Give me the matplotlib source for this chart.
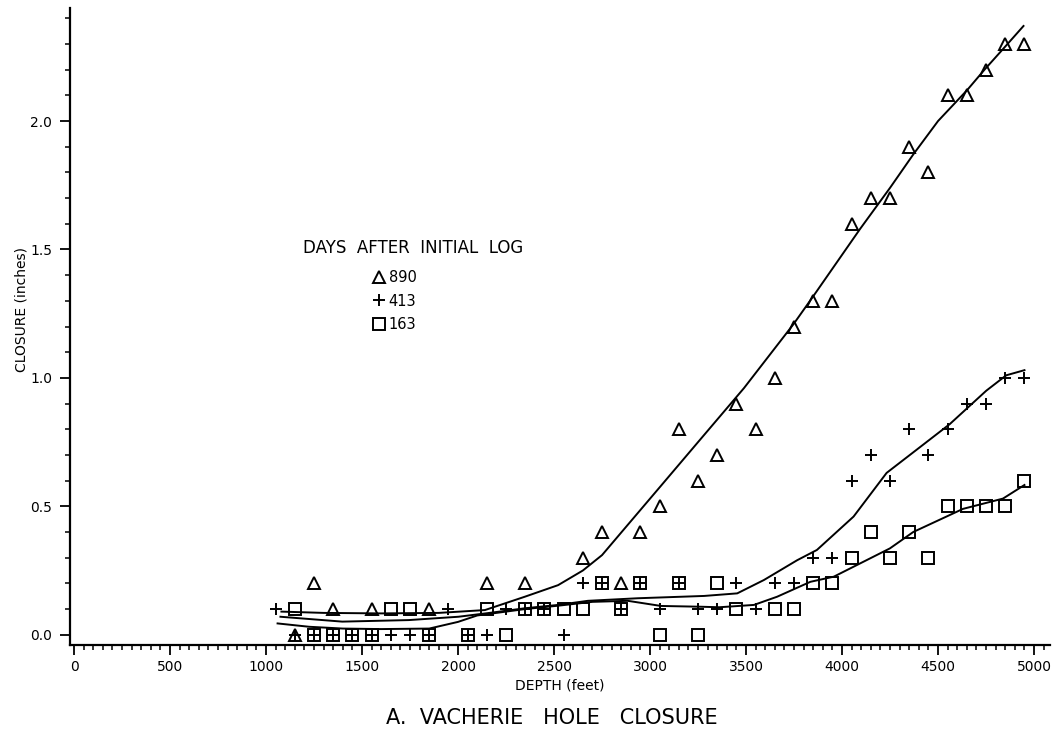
import matplotlib
matplotlib.use('Agg')
import matplotlib.pyplot as plt
from matplotlib.ticker import MultipleLocator, FormatStrFormatter

# measured closure, 890 days after initial log (triangles)
depth_890 = [1150, 1250, 1350, 1550, 1850, 2150, 2350, 2650, 2750, 2850,
             2950, 3050, 3150, 3250, 3350, 3450, 3550, 3650, 3750, 3850,
             3950, 4050, 4150, 4250, 4350, 4450, 4550, 4650, 4750, 4850, 4950]
close_890 = [0.0, 0.2, 0.1, 0.1, 0.1, 0.2, 0.2, 0.3, 0.4, 0.2,
             0.4, 0.5, 0.8, 0.6, 0.7, 0.9, 0.8, 1.0, 1.2, 1.3,
             1.3, 1.6, 1.7, 1.7, 1.9, 1.8, 2.1, 2.1, 2.2, 2.3, 2.3]

# 413 days (plus)
depth_413 = [1050, 1150, 1250, 1350, 1450, 1550, 1650, 1750, 1850, 1950,
             2050, 2150, 2250, 2350, 2450, 2550, 2650, 2750, 2850, 2950,
             3050, 3150, 3250, 3350, 3450, 3550, 3650, 3750, 3850, 3950,
             4050, 4150, 4250, 4350, 4450, 4550, 4650, 4750, 4850, 4950]
close_413 = [0.1, 0.0, 0.0, 0.0, 0.0, 0.0, 0.0, 0.0, 0.0, 0.1,
             0.0, 0.0, 0.1, 0.1, 0.1, 0.0, 0.2, 0.2, 0.1, 0.2,
             0.1, 0.2, 0.1, 0.1, 0.2, 0.1, 0.2, 0.2, 0.3, 0.3,
             0.6, 0.7, 0.6, 0.8, 0.7, 0.8, 0.9, 0.9, 1.0, 1.0]

# 163 days (squares)
depth_163 = [1150, 1250, 1350, 1450, 1550, 1650, 1750, 1850, 2050, 2150,
             2250, 2350, 2450, 2550, 2650, 2750, 2850, 2950, 3050, 3150,
             3250, 3350, 3450, 3650, 3750, 3850, 3950, 4050, 4150, 4250,
             4350, 4450, 4550, 4650, 4750, 4850, 4950]
close_163 = [0.1, 0.0, 0.0, 0.0, 0.0, 0.1, 0.1, 0.0, 0.0, 0.1,
             0.0, 0.1, 0.1, 0.1, 0.1, 0.2, 0.1, 0.2, 0.0, 0.2,
             0.0, 0.2, 0.1, 0.1, 0.1, 0.2, 0.2, 0.3, 0.4, 0.3,
             0.4, 0.3, 0.5, 0.5, 0.5, 0.5, 0.6]

# hand fitted curves
fit_890_d = [1080, 1300, 1600, 1900, 2140, 2244, 2348, 2521, 2650, 2750, 2875,
             3057, 3250, 3489, 3748, 3852, 4094, 4250, 4371, 4500, 4651,
             4742, 4850, 4945]
fit_890_v = [0.09, 0.085, 0.083, 0.085, 0.096, 0.122, 0.148, 0.193, 0.25, 0.31, 0.42,
             0.58, 0.75, 0.96, 1.21, 1.32, 1.58, 1.74, 1.87, 2.0, 2.12,
             2.2, 2.29, 2.37]

fit_413_d = [1075, 1397, 1743, 2002, 2175, 2348, 2521, 2676, 2936, 3282, 3454,
             3593, 3766, 3869, 4060, 4232, 4388, 4561, 4751, 4855, 4950]
fit_413_v = [0.07, 0.051, 0.057, 0.07, 0.086, 0.103, 0.116, 0.132, 0.142, 0.151, 0.161,
             0.213, 0.29, 0.33, 0.46, 0.63, 0.72, 0.82, 0.95, 1.01, 1.03]

fit_163_d = [1060, 1224, 1400, 1600, 1850, 2000, 2100, 2350, 2521, 2700, 2884,
             3057, 3264, 3361, 3541, 3662, 3835, 3957, 4249, 4371, 4630, 4838, 4950]
fit_163_v = [0.044, 0.031, 0.024, 0.022, 0.024, 0.05, 0.075, 0.10, 0.113, 0.128, 0.132,
             0.112, 0.109, 0.107, 0.116, 0.148, 0.206, 0.226, 0.336, 0.40, 0.49, 0.53, 0.583]

x_ticks = list(range(0, 5001, 500))


def main():
    plt.rcParams['font.family'] = 'DejaVu Sans'
    fig = plt.figure(figsize=(10.52, 7.40), dpi=100)
    ax = fig.add_axes([70 / 1052, 1 - 645 / 740, 980 / 1052, 637 / 740])

    for d, v in [(fit_890_d, fit_890_v), (fit_413_d, fit_413_v), (fit_163_d, fit_163_v)]:
        ax.plot(d, v, color='black', linewidth=1.4)

    h890, = ax.plot(depth_890, close_890, linestyle='none', marker='^', markersize=9,
                    markerfacecolor='none', markeredgecolor='black', markeredgewidth=1.4,
                    label='890')
    h413, = ax.plot(depth_413, close_413, linestyle='none', marker='+', markersize=8,
                    markeredgecolor='black', markeredgewidth=1.4, label='413')
    h163, = ax.plot(depth_163, close_163, linestyle='none', marker='s', markersize=8,
                    markerfacecolor='none', markeredgecolor='black', markeredgewidth=1.4,
                    label='163')

    ax.set_xlim(-21, 5083)
    ax.set_ylim(-0.04, 2.44)

    for side in ['top', 'right']:
        ax.spines[side].set_visible(False)
    for side in ['left', 'bottom']:
        ax.spines[side].set_linewidth(1.6)

    ax.set_xticks(x_ticks)
    ax.xaxis.set_minor_locator(MultipleLocator(50))
    ax.yaxis.set_major_locator(MultipleLocator(0.5))
    ax.yaxis.set_minor_locator(MultipleLocator(0.1))
    ax.yaxis.set_major_formatter(FormatStrFormatter('%.1f'))
    ax.tick_params(axis='both', which='major', direction='out', length=7, width=1.3,
                   labelsize=10)
    ax.tick_params(axis='both', which='minor', direction='out', length=3.5, width=1.1)
    ax.tick_params(axis='x', which='major', pad=4)
    ax.tick_params(axis='y', which='major', pad=6)

    ax.set_xlabel('DEPTH (feet)', fontsize=10, labelpad=3)
    ax.set_ylabel('CLOSURE (inches)', fontsize=10)
    ax.yaxis.set_label_coords(-0.042, 0.526)

    # legend block
    ax.text(0.35, 0.623, 'DAYS  AFTER  INITIAL  LOG', transform=ax.transAxes,
            ha='center', va='center', fontsize=12)
    ax.legend(handles=[h890, h413, h163], loc='upper left', frameon=False,
              bbox_to_anchor=(0.297, 0.605), fontsize=10.5, handlelength=1.0,
              handletextpad=0.2, labelspacing=0.6, borderpad=0.2)

    fig.text(552 / 1052, 1 - 718 / 740, 'A.  VACHERIE   HOLE   CLOSURE',
             ha='center', va='center', fontsize=15)

    fig.savefig('out.png', dpi=100)
    plt.close(fig)


if __name__ == "__main__":
    main()
